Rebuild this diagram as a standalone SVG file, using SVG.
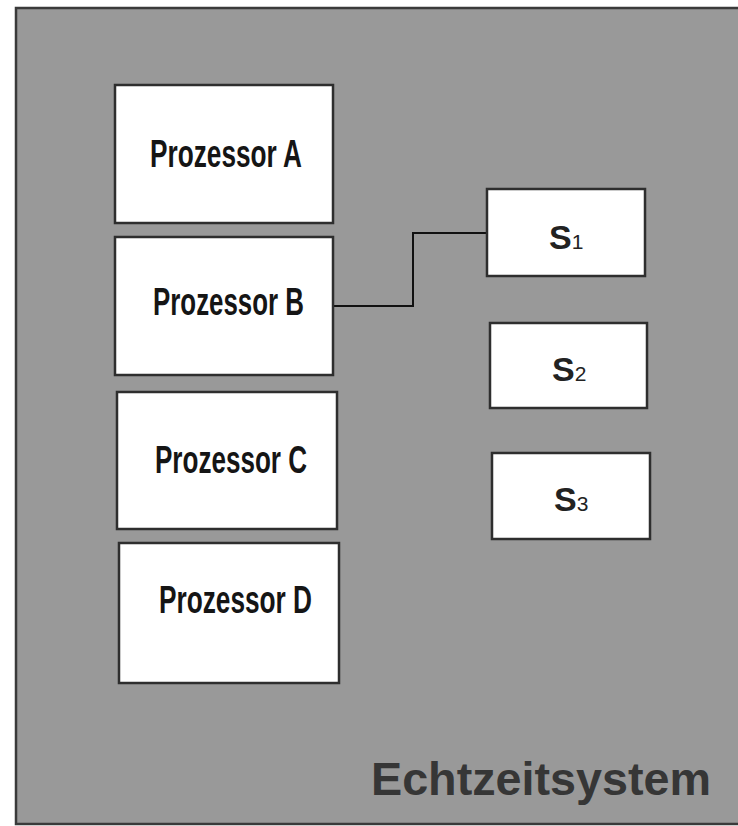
<svg xmlns="http://www.w3.org/2000/svg" width="738" height="826" viewBox="0 0 738 826">
<style>
.box{fill:#ffffff;stroke:#2e2e2e;stroke-width:2.5}
.proc{font-family:"Liberation Sans",Arial,sans-serif;font-weight:bold;font-size:38px;fill:#151515}
.s{font-family:"Liberation Sans",Arial,sans-serif;font-weight:bold;font-size:34px;fill:#222}
.sub{font-size:21px;font-weight:normal}
.title{font-family:"Liberation Sans",Arial,sans-serif;font-weight:bold;font-size:46px;fill:#363636}
.conn{fill:none;stroke:#111;stroke-width:2}
</style>
<rect x="0" y="0" width="738" height="826" fill="#ffffff"/>
<g id="system">
<rect x="16" y="8" width="730" height="816" fill="#999999" stroke="#3a3a3a" stroke-width="2.5"/>
<text class="title" x="371" y="795" textLength="340" lengthAdjust="spacingAndGlyphs">Echtzeitsystem</text>
</g>
<g id="connectors">
<polyline class="conn" points="333,306 413,306 413,233 487,233"/>
</g>
<g id="prozessorA">
<rect class="box" x="115" y="85" width="218" height="138"/>
<text class="proc" x="150" y="167" textLength="152" lengthAdjust="spacingAndGlyphs">Prozessor A</text>
</g>
<g id="prozessorB">
<rect class="box" x="115" y="237" width="218" height="138"/>
<text class="proc" x="153" y="315" textLength="151" lengthAdjust="spacingAndGlyphs">Prozessor B</text>
</g>
<g id="prozessorC">
<rect class="box" x="117" y="392" width="220" height="137"/>
<text class="proc" x="155" y="473" textLength="152" lengthAdjust="spacingAndGlyphs">Prozessor C</text>
</g>
<g id="prozessorD">
<rect class="box" x="119" y="543" width="220" height="140"/>
<text class="proc" x="159" y="613" textLength="153" lengthAdjust="spacingAndGlyphs">Prozessor D</text>
</g>
<g id="S1">
<rect class="box" x="487" y="189" width="158" height="87"/>
<text class="s" x="549" y="249">S<tspan class="sub">1</tspan></text>
</g>
<g id="S2">
<rect class="box" x="490" y="323" width="157" height="85"/>
<text class="s" x="552" y="381">S<tspan class="sub">2</tspan></text>
</g>
<g id="S3">
<rect class="box" x="492" y="453" width="158" height="86"/>
<text class="s" x="554" y="511">S<tspan class="sub">3</tspan></text>
</g>
</svg>
